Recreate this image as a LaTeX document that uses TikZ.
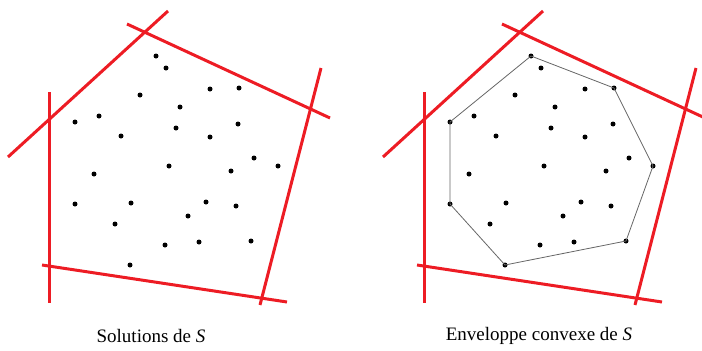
\documentclass[tikz,border=0pt]{standalone}
\usepackage{fontspec}
\setmainfont{Liberation Serif}
\usepackage{tikz}
\usepackage{color}
\usetikzlibrary{positioning}

\definecolor{cutred}{RGB}{237,28,36}
\newcommand{\solpoints}{156/56, 166/68, 210/89, 239/88, 140/95, 180/107, 75/122,
  99/116, 176/128, 238/124, 121/136, 210/137, 254/158, 278/166, 169/166,
  231/171, 94/174, 75/204, 131/203, 206/202, 236/206, 188/216, 115/224,
  165/245, 199/242, 251/241, 130/265}

\begin{document}
\begin{tikzpicture}[
    x=1pt, y=-1pt,
    cut/.style={draw=cutred, line width=3pt},
    hull/.style={draw=black!60, line width=0.8pt},
    sol/.style={circle, fill=black, inner sep=0pt, minimum size=5pt},
    caption/.style={font=\fontsize{19}{23}\selectfont, inner sep=0pt}
]
\useasboundingbox (0,0) rectangle (702,351);

% Left: solutions
\begin{scope}
\draw[cut] (8,157) -- (168,11);
\draw[cut] (127,24) -- (330,118);
\draw[cut] (321,68) -- (260,305);
\draw[cut] (42,265) -- (287,302);
\draw[cut] (49,92) -- (49,303);
\foreach \x/\y [count=\i] in \solpoints
    \node[sol] (p\i) at (\x,\y) {};
\end{scope}

% Right: convex hull
\begin{scope}[xshift=375pt]
\draw[cut] (8,157) -- (168,11);
\draw[cut] (127,24) -- (330,118);
\draw[cut] (321,68) -- (260,305);
\draw[cut] (42,265) -- (287,302);
\draw[cut] (49,92) -- (49,303);
\foreach \x/\y [count=\i] in \solpoints
    \node[sol] (q\i) at (\x,\y) {};
\draw[hull] (q1.center) -- (q4.center) -- (q14.center) -- (q26.center)
    -- (q27.center) -- (q18.center) -- (q7.center) -- cycle;
\end{scope}

% Captions
\node[caption] (capleft) at (151,336) {Solutions de \textit{S}};
\node[caption] (capright) at (539,336) {Enveloppe convexe de \textit{S}};

\end{tikzpicture}
\end{document}
